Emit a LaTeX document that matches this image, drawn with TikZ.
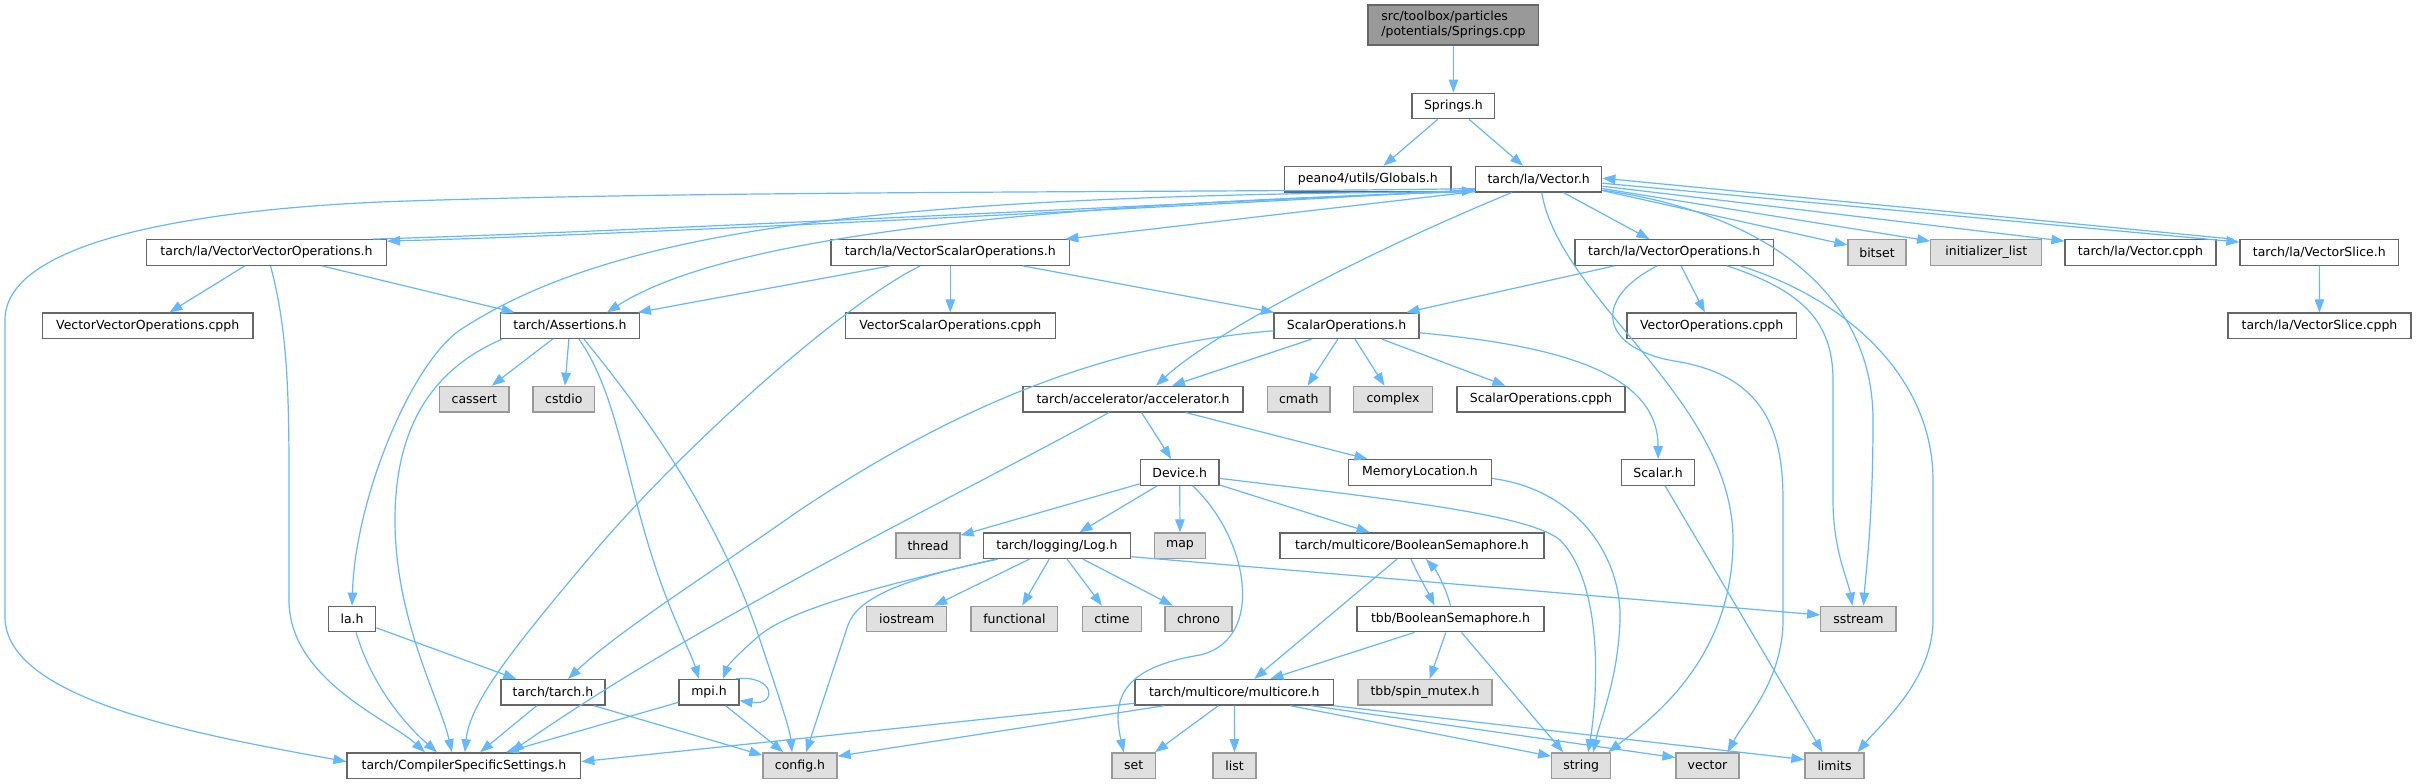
\documentclass[tikz,border=0pt]{standalone}
\usepackage{fontspec}
\setmainfont{DejaVu Sans}
\usetikzlibrary{arrows.meta}
\definecolor{edgec}{HTML}{63B8FF}
\definecolor{bordc}{HTML}{666666}
\definecolor{extb}{HTML}{999999}
\definecolor{extf}{HTML}{E0E0E0}
\definecolor{rootf}{HTML}{999999}
\tikzset{
  box/.style={draw=bordc, line width=1.3pt, fill=white, minimum height=25.5pt, inner sep=0pt, font=\fontsize{12.5}{15}\selectfont, text=black},
  extbox/.style={box, draw=extb, fill=extf},
  rootbox/.style={box, fill=rootf, minimum height=40pt, align=left},
  dep/.style={draw=edgec, line width=1.2pt, -{Triangle[length=13pt,width=9.5pt]}},
}
\begin{document}
\begin{tikzpicture}[x=1pt,y=-1pt]
\fill[white] (0,0) rectangle (2417,784);
\useasboundingbox (0,0) rectangle (2417,784);
% nodes
\node[rootbox, minimum width=170.7pt] (root) at (1453.4,25) {src/toolbox/particles\\/potentials/Springs.cpp};
\node[box, minimum width=82.8pt] (springs) at (1453.4,105.9) {Springs.h};
\node[box, minimum width=166.3pt] (globals) at (1367.8,179.2) {peano4/utils/Globals.h};
\node[box, minimum width=126.1pt] (vec) at (1538.7,179.2) {tarch/la/Vector.h};
\node[box, minimum width=239.7pt] (vvo) at (266.5,252.5) {tarch/la/VectorVectorOperations.h};
\node[box, minimum width=238.7pt] (vso) at (950.3,252.5) {tarch/la/VectorScalarOperations.h};
\node[box, minimum width=198.5pt] (vo) at (1674.2,252.5) {tarch/la/VectorOperations.h};
\node[extbox, minimum width=58pt] (bitset) at (1877,252.5) {bitset};
\node[extbox, minimum width=111pt] (init) at (1986.3,252.5) {initializer\_list};
\node[box, minimum width=151pt] (vcpph) at (2140.5,252.5) {tarch/la/Vector.cpph};
\node[box, minimum width=158.7pt] (vslice) at (2319.3,252.5) {tarch/la/VectorSlice.h};
\node[box, minimum width=210.7pt] (vvocpph) at (147.7,325.8) {VectorVectorOperations.cpph};
\node[box, minimum width=138.6pt] (ass) at (570,325.8) {tarch/Assertions.h};
\node[box, minimum width=209.7pt] (vsocpph) at (950.3,325.8) {VectorScalarOperations.cpph};
\node[box, minimum width=144.9pt] (so) at (1346.5,325.8) {ScalarOperations.h};
\node[box, minimum width=169.4pt] (vocpph) at (1711.7,325.8) {VectorOperations.cpph};
\node[box, minimum width=183pt] (vslicecpph) at (2319.5,325.8) {tarch/la/VectorSlice.cpph};
\node[extbox, minimum width=69.3pt] (cassert) at (474.3,399.1) {cassert};
\node[extbox, minimum width=61.6pt] (cstdio) at (563.8,399.1) {cstdio};
\node[box, minimum width=220pt] (acc) at (1133,399.1) {tarch/accelerator/accelerator.h};
\node[extbox, minimum width=62.5pt] (cmath) at (1298.8,399.1) {cmath};
\node[extbox, minimum width=78.5pt] (complex) at (1393,399.1) {complex};
\node[box, minimum width=168pt] (socpph) at (1541,399.1) {ScalarOperations.cpph};
\node[box, minimum width=78.6pt] (dev) at (1179.7,472.4) {Device.h};
\node[box, minimum width=142.6pt] (ml) at (1419.9,472.4) {MemoryLocation.h};
\node[box, minimum width=73.4pt] (scalar) at (1658.1,472.4) {Scalar.h};
\node[extbox, minimum width=64pt] (thread) at (928,545.7) {thread};
\node[box, minimum width=147.2pt] (log) at (1057,545.7) {tarch/logging/Log.h};
\node[extbox, minimum width=51.1pt] (map) at (1180,545.7) {map};
\node[box, minimum width=264pt] (bs) at (1412,545.7) {tarch/multicore/BooleanSemaphore.h};
\node[box, minimum width=47pt] (la) at (352.1,619) {la.h};
\node[extbox, minimum width=80.1pt] (ios) at (906.7,619) {iostream};
\node[extbox, minimum width=86.8pt] (func) at (1014.4,619) {functional};
\node[extbox, minimum width=58.9pt] (ctime) at (1112,619) {ctime};
\node[extbox, minimum width=67pt] (chrono) at (1198.5,619) {chrono};
\node[box, minimum width=187pt] (tbb) at (1450.5,619) {tbb/BooleanSemaphore.h};
\node[extbox, minimum width=75.3pt] (sstream) at (1858.4,619) {sstream};
\node[box, minimum width=104pt] (tarch) at (553,692.3) {tarch/tarch.h};
\node[box, minimum width=59.8pt] (mpi) at (709,692.3) {mpi.h};
\node[box, minimum width=198.6pt] (mc) at (1234.3,692.3) {tarch/multicore/multicore.h};
\node[extbox, minimum width=134pt] (spin) at (1425,692.3) {tbb/spin\_mutex.h};
\node[box, minimum width=233.7pt] (css) at (463.9,765.6) {tarch/CompilerSpecificSettings.h};
\node[extbox, minimum width=74pt] (config) at (800,765.6) {config.h};
\node[extbox, minimum width=43.4pt] (set) at (1133.7,765.6) {set};
\node[extbox, minimum width=43pt] (list) at (1234.5,765.6) {list};
\node[extbox, minimum width=59pt] (string) at (1581.2,765.6) {string};
\node[extbox, minimum width=63pt] (vector) at (1707.5,765.6) {vector};
\node[extbox, minimum width=59pt] (limits) at (1834.5,765.6) {limits};
% edges
\draw[dep] (root) -- (springs);
\draw[dep] (springs) -- (globals);
\draw[dep] (springs) -- (vec);
% Vector.h
\draw[dep] ([yshift=3pt]vec.south west) .. controls (1250,203) and (650,234) .. ([yshift=-2pt]vvo.north east);
\draw[dep] ([xshift=-14pt]vvo.north east) .. controls (650,231) and (1250,200) .. ([yshift=2pt]vec.south west);
\draw[dep] ([yshift=1pt]vec.south west) -- ([xshift=-5pt]vso.north east);
\draw[dep] ([yshift=1pt]vec.south west) .. controls (1000,205) and (720,240) .. ([xshift=37pt]ass.north);
\draw[dep] ([yshift=1pt]vec.south west) .. controls (900,195) and (620,225) .. (460,330) .. controls (410,365) and (355,500) .. (la.north);
\draw[dep] ([yshift=4pt]vec.south west) .. controls (1200,193) and (700,190) .. (380,202) .. controls (200,210) and (5,240) .. (5,320) -- (5,617) .. controls (5,700) and (200,735) .. ([yshift=4pt]css.west);
\draw[dep] ([xshift=-27pt]vec.south) .. controls (1360,255) and (1210,335) .. ([xshift=23pt]acc.north);
\draw[dep] ([xshift=3pt]vec.south) .. controls (1560,300) and (1733,400) .. (1733,540) .. controls (1733,660) and (1650,720) .. ([xshift=27pt]string.north);
\draw[dep] (vec) -- (vo);
\draw[dep] ([yshift=2pt]vec.south east) -- ([yshift=-6pt]bitset.north west);
\draw[dep] ([yshift=4pt]vec.south east) -- ([yshift=-2pt]init.north west);
\draw[dep] ([yshift=-7pt]vec.east) -- ([yshift=-2pt]vcpph.north west);
\draw[dep] ([yshift=-4pt]vec.east) -- ([yshift=-3pt]vslice.north west);
\draw[dep] ([xshift=-6pt]vslice.north west) -- ([yshift=1pt]vec.east);
\draw[dep] ([yshift=-11pt]vec.east) .. controls (1760,212) and (1873,290) .. (1873,420) .. controls (1873,520) and (1866,570) .. ([xshift=5pt]sstream.north);
% VectorVectorOperations.h
\draw[dep] (vvo) -- (vvocpph);
\draw[dep] (vvo) -- (ass);
\draw[dep] ([xshift=4pt]vvo.south) .. controls (288,330) and (289,400) .. (289,480) -- (289,600) .. controls (289,680) and (390,720) .. ([xshift=-39pt]css.north);
% VectorScalarOperations.h
\draw[dep] (vso) -- (vsocpph);
\draw[dep] ([xshift=-60pt]vso.south) -- ([xshift=-2pt]ass.north east);
\draw[dep] (vso) -- (so);
\draw[dep] ([xshift=-30pt]vso.south) .. controls (850,300) and (700,430) .. (600,545) .. controls (520,640) and (470,700) .. ([xshift=1pt]css.north);
% Assertions.h
\draw[dep] (ass) -- (cassert);
\draw[dep] (ass) -- (cstdio);
\draw[dep] ([xshift=9pt]ass.south) .. controls (615,390) and (625,470) .. (650,550) .. controls (670,615) and (690,650) .. ([xshift=-10pt]mpi.north);
\draw[dep] ([xshift=14pt]ass.south) .. controls (650,420) and (720,520) .. (760,640) .. controls (780,700) and (790,730) .. ([xshift=-8pt]config.north);
\draw[dep] ([xshift=2pt]ass.south west) .. controls (430,370) and (395,430) .. (395,520) .. controls (395,620) and (440,700) .. ([xshift=-12pt]css.north);
% la.h
\draw[dep] ([xshift=4pt]la.south) .. controls (370,680) and (400,720) .. ([xshift=-27pt]css.north);
\draw[dep] (la) -- (tarch);
% tarch.h
\draw[dep] (tarch) -- (css);
\draw[dep] ([xshift=41pt]tarch.south) -- ([yshift=-3pt]config.north west);
% mpi.h
\draw[dep] ([yshift=-10pt]mpi.west) -- ([xshift=42pt]css.north);
\draw[dep] ([xshift=-4pt]mpi.north east) .. controls (775,674) and (778,706) .. ([yshift=5pt]mpi.south east);
\draw[dep] (mpi) -- (config);
% accelerator.h
\draw[dep] (acc) -- (dev);
\draw[dep] (acc) -- (ml);
\draw[dep] ([xshift=-24pt]acc.south) .. controls (950,500) and (700,620) .. ([xshift=47pt]css.north);
% ScalarOperations.h
\draw[dep] ([xshift=-35pt]so.south) -- ([xshift=39pt]acc.north);
\draw[dep] (so) -- (cmath);
\draw[dep] (so) -- (complex);
\draw[dep] (so) -- (socpph);
\draw[dep] ([yshift=-7pt]so.east) .. controls (1550,345) and (1658,370) .. (scalar.north);
\draw[dep] ([yshift=-5pt]so.west) .. controls (1100,345) and (950,410) .. (800,510) .. controls (700,580) and (620,630) .. ([xshift=15pt]tarch.north);
% VectorOperations.h
\draw[dep] (vo) -- (so);
\draw[dep] (vo) -- (vocpph);
\draw[dep] ([xshift=-17pt]vo.south) .. controls (1590,300) and (1600,350) .. (1680,362) .. controls (1770,378) and (1783,440) .. (1783,500) -- (1783,620) .. controls (1783,680) and (1745,720) .. ([xshift=20pt]vector.north);
\draw[dep] ([xshift=53pt]vo.south) .. controls (1800,290) and (1833,320) .. (1833,380) -- (1833,500) .. controls (1833,550) and (1848,580) .. ([xshift=-6pt]sstream.north);
\draw[dep] ([xshift=66pt]vo.south) .. controls (1850,300) and (1933,380) .. (1933,480) -- (1933,620) .. controls (1933,680) and (1880,725) .. ([xshift=23pt]limits.north);
% VectorSlice.h
\draw[dep] (vslice) -- (vslicecpph);
% Device.h
\draw[dep] ([yshift=2pt]dev.south west) -- ([yshift=-3pt]thread.north east);
\draw[dep] (dev) -- (log);
\draw[dep] (dev) -- (map);
\draw[dep] ([xshift=13pt]dev.south) .. controls (1250,540) and (1265,640) .. (1200,655) .. controls (1120,668) and (1112,700) .. ([xshift=-10pt]set.north);
\draw[dep] ([yshift=-6pt]dev.east) .. controls (1400,500) and (1530,515) .. (1560,540) .. controls (1600,580) and (1600,680) .. ([xshift=7pt]string.north);
\draw[dep] (dev) -- (bs);
% MemoryLocation.h
\draw[dep] ([yshift=-6pt]ml.east) .. controls (1580,490) and (1622,560) .. (1620,620) .. controls (1618,680) and (1600,720) .. ([xshift=12pt]string.north);
% Log.h
\draw[dep] (log) -- (ios);
\draw[dep] (log) -- (func);
\draw[dep] (log) -- (ctime);
\draw[dep] (log) -- (chrono);
\draw[dep] ([xshift=-61pt]log.south) .. controls (900,580) and (858,598) .. (848,625) -- ([xshift=6pt]config.north);
\draw[dep] ([xshift=-59pt]log.south) .. controls (880,585) and (790,610) .. (760,635) .. controls (740,652) and (728,665) .. ([xshift=14pt]mpi.north);
\draw[dep] ([yshift=-11pt]log.east) -- ([yshift=4pt]sstream.west);
% BooleanSemaphore
\draw[dep] ([xshift=-1pt]bs.south) .. controls (1418,575) and (1428,592) .. ([xshift=-16pt]tbb.north);
\draw[dep] (tbb.north) .. controls (1446,588) and (1436,570) .. ([xshift=14pt]bs.south);
\draw[dep] ([xshift=-15pt]bs.south) -- ([xshift=20pt]mc.north);
\draw[dep] (tbb) -- (spin);
\draw[dep] ([xshift=-36pt]tbb.south) -- ([xshift=36pt]mc.north);
\draw[dep] ([xshift=11pt]tbb.south) -- ([xshift=-18pt]string.north);
% multicore.h
\draw[dep] ([yshift=-11pt]mc.west) -- ([yshift=4pt]css.east);
\draw[dep] ([xshift=-70pt]mc.south) -- ([yshift=-4pt]config.north east);
\draw[dep] ([xshift=-16pt]mc.south) -- ([xshift=-1pt]set.north east);
\draw[dep] (mc) -- (list);
\draw[dep] ([xshift=56pt]mc.south) -- ([yshift=-4pt]string.north west);
\draw[dep] ([xshift=77pt]mc.south) -- ([yshift=8pt]vector.west);
\draw[dep] ([xshift=-1pt]mc.south east) -- ([yshift=6pt]limits.west);
% Scalar.h
\draw[dep] ([xshift=7pt]scalar.south) -- ([xshift=-12pt]limits.north);
\end{tikzpicture}
\end{document}
